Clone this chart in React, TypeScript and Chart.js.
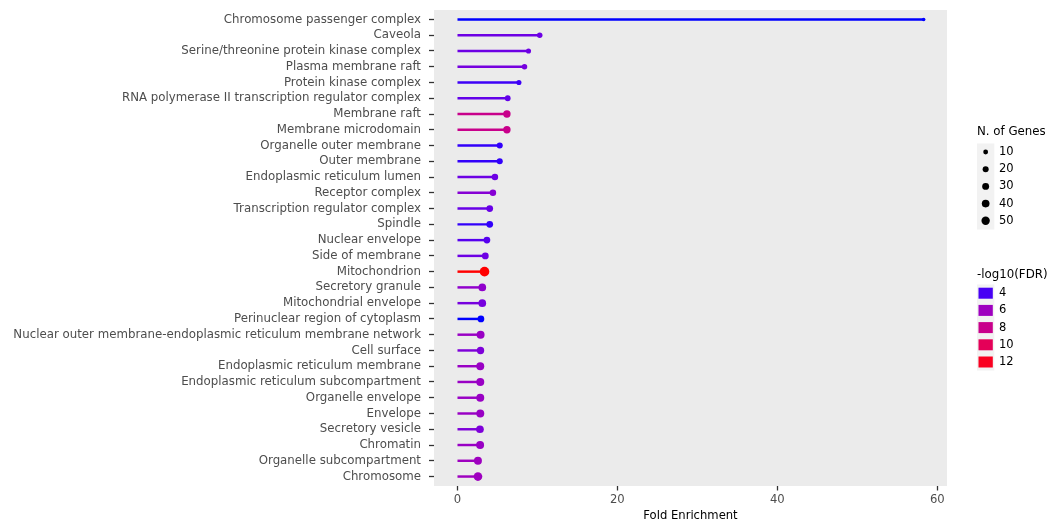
import { useEffect, useRef } from 'react';
import Chart from 'chart.js/auto';

// GO cellular component terms, top to bottom
const terms = [
  'Chromosome passenger complex',
  'Caveola',
  'Serine/threonine protein kinase complex',
  'Plasma membrane raft',
  'Protein kinase complex',
  'RNA polymerase II transcription regulator complex',
  'Membrane raft',
  'Membrane microdomain',
  'Organelle outer membrane',
  'Outer membrane',
  'Endoplasmic reticulum lumen',
  'Receptor complex',
  'Transcription regulator complex',
  'Spindle',
  'Nuclear envelope',
  'Side of membrane',
  'Mitochondrion',
  'Secretory granule',
  'Mitochondrial envelope',
  'Perinuclear region of cytoplasm',
  'Nuclear outer membrane-endoplasmic reticulum membrane network',
  'Cell surface',
  'Endoplasmic reticulum membrane',
  'Endoplasmic reticulum subcompartment',
  'Organelle envelope',
  'Envelope',
  'Secretory vesicle',
  'Chromatin',
  'Organelle subcompartment',
  'Chromosome',
];

const foldEnrichment = [
  58.3, 10.3, 8.9, 8.4, 7.7, 6.3, 6.2, 6.2, 5.3, 5.3,
  4.7, 4.45, 4.05, 4.05, 3.7, 3.5, 3.4, 3.12, 3.12, 2.95,
  2.91, 2.9, 2.87, 2.87, 2.87, 2.87, 2.83, 2.85, 2.58, 2.58,
];

const geneCounts = [
  3, 15, 12, 15, 12, 18, 36, 36, 21, 21,
  25, 25, 28, 28, 28, 28, 72, 40, 40, 28,
  44, 36, 44, 44, 44, 44, 40, 44, 44, 55,
];

const log10FDR = [
  3.6, 4.6, 4.6, 4.8, 3.9, 4.4, 8.0, 8.0, 3.8, 3.8,
  4.6, 5.2, 4.5, 3.8, 4.2, 4.6, 12.6, 5.5, 4.8, 3.6,
  5.8, 5.0, 5.8, 5.8, 5.8, 5.8, 5.0, 5.8, 6.0, 6.0,
];

const foldTicks = [0, 20, 40, 60];
const geneBreaks = [10, 20, 30, 40, 50];
const fdrBreaks = [4, 6, 8, 10, 12];

const FONT = '"DejaVu Sans", sans-serif';

// ---- colour gradient (blue -> red, interpolated in CIE Lab) ----
type Lab = [number, number, number];
function toLinear(c: number) {
  c /= 255;
  return c <= 0.04045 ? c / 12.92 : Math.pow((c + 0.055) / 1.055, 2.4);
}
function fromLinear(c: number) {
  const v = c <= 0.0031308 ? 12.92 * c : 1.055 * Math.pow(c, 1 / 2.4) - 0.055;
  return Math.max(0, Math.min(255, Math.round(v * 255)));
}
const WX = 0.95047, WY = 1.0, WZ = 1.08883;
function rgbToLab(r: number, g: number, b: number): Lab {
  const R = toLinear(r), G = toLinear(g), B = toLinear(b);
  const X = (R * 0.4124564 + G * 0.3575761 + B * 0.1804375) / WX;
  const Y = (R * 0.2126729 + G * 0.7151522 + B * 0.072175) / WY;
  const Z = (R * 0.0193339 + G * 0.119192 + B * 0.9503041) / WZ;
  const f = (t: number) => (t > 216 / 24389 ? Math.cbrt(t) : (24389 / 27 * t + 16) / 116);
  const fx = f(X), fy = f(Y), fz = f(Z);
  return [116 * fy - 16, 500 * (fx - fy), 200 * (fy - fz)];
}
function labToRgb([L, a, b]: Lab): string {
  const fy = (L + 16) / 116;
  const fx = fy + a / 500;
  const fz = fy - b / 200;
  const inv = (t: number) => (t * t * t > 216 / 24389 ? t * t * t : (116 * t - 16) / (24389 / 27));
  const X = inv(fx) * WX, Y = inv(fy) * WY, Z = inv(fz) * WZ;
  const R = X * 3.2404542 - Y * 1.5371385 - Z * 0.4985314;
  const G = -X * 0.969266 + Y * 1.8760108 + Z * 0.041556;
  const B = X * 0.0556434 - Y * 0.2040259 + Z * 1.0572252;
  return `rgb(${fromLinear(R)},${fromLinear(G)},${fromLinear(B)})`;
}
const LOW = rgbToLab(0, 0, 255);
const HIGH = rgbToLab(255, 0, 0);
const fdrMin = Math.min(...log10FDR);
const fdrMax = Math.max(...log10FDR);
function fdrColor(v: number) {
  const t = Math.max(0, Math.min(1, (v - fdrMin) / (fdrMax - fdrMin)));
  return labToRgb([
    LOW[0] + (HIGH[0] - LOW[0]) * t,
    LOW[1] + (HIGH[1] - LOW[1]) * t,
    LOW[2] + (HIGH[2] - LOW[2]) * t,
  ]);
}

// point radius grows with the square root of the gene count
function geneRadius(n: number) {
  return (2.0 + 0.9 * Math.sqrt(n)) / 2;
}

const maxFE = Math.max(...foldEnrichment);
const xPad = maxFE * 0.05;

const panelPlugin = {
  id: 'panelBackground',
  beforeDraw(chart: any) {
    const { ctx, chartArea } = chart;
    ctx.save();
    ctx.fillStyle = '#EBEBEB';
    ctx.fillRect(chartArea.left, chartArea.top, chartArea.right - chartArea.left, chartArea.bottom - chartArea.top);
    ctx.restore();
  },
};

const legendPlugin = {
  id: 'sideLegends',
  afterDraw(chart: any) {
    const { ctx } = chart;
    ctx.save();
    ctx.textBaseline = 'middle';
    ctx.textAlign = 'left';
    const keyX = 977;
    const keyW = 17.3;
    const step = 17.2;
    const titleFont = `11.8px ${FONT}`;
    const labelFont = `11.5px ${FONT}`;

    // size legend
    ctx.font = titleFont;
    ctx.fillStyle = '#000';
    ctx.fillText('N. of Genes', keyX, 132);
    ctx.fillStyle = '#F2F2F2';
    ctx.fillRect(keyX, 143.5, keyW, step * geneBreaks.length);
    ctx.font = labelFont;
    geneBreaks.forEach((n, i) => {
      const cy = 152 + i * step;
      ctx.fillStyle = '#000';
      ctx.beginPath();
      ctx.arc(keyX + keyW / 2, cy, geneRadius(n), 0, Math.PI * 2);
      ctx.fill();
      ctx.fillText(String(n), 999, cy);
    });

    // colour legend
    ctx.font = titleFont;
    ctx.fillStyle = '#000';
    ctx.fillText('-log10(FDR)', keyX, 275);
    ctx.fillStyle = '#F2F2F2';
    ctx.fillRect(keyX, 284.5, keyW, step * fdrBreaks.length);
    ctx.font = labelFont;
    fdrBreaks.forEach((v, i) => {
      const cy = 293.2 + i * step;
      ctx.fillStyle = fdrColor(v);
      ctx.fillRect(keyX + 1.5, cy - 5.5, 14.3, 11);
      ctx.fillStyle = '#000';
      ctx.fillText(String(v), 999, cy);
    });
    ctx.restore();
  },
};

export default function App() {
  const canvasRef = useRef<HTMLCanvasElement | null>(null);

  useEffect(() => {
    if (!canvasRef.current) return;
    const colors = log10FDR.map(fdrColor);
    const chart = new Chart(canvasRef.current, {
      type: 'scatter',
      data: {
        datasets: [
          {
            type: 'scatter',
            data: foldEnrichment.map((fe, i) => ({ x: fe, y: i })),
            pointRadius: geneCounts.map(geneRadius),
            pointHoverRadius: geneCounts.map(geneRadius),
            pointBackgroundColor: colors,
            pointBorderWidth: 0,
            showLine: false,
          } as any,
          {
            type: 'bar',
            indexAxis: 'y',
            data: foldEnrichment.map((fe, i) => ({ x: fe, y: i })),
            backgroundColor: colors,
            borderWidth: 0,
            barThickness: 1.8,
          } as any,
        ],
      },
      options: {
        responsive: false,
        maintainAspectRatio: false,
        animation: false,
        events: [],
        layout: { padding: { top: 10, right: 101, left: 0, bottom: 0 } },
        plugins: {
          legend: { display: false },
          tooltip: { enabled: false },
        },
        scales: {
          x: {
            type: 'linear',
            min: -xPad,
            max: maxFE + xPad,
            offset: false,
            afterBuildTicks: (scale: any) => {
              scale.ticks = foldTicks.map((v) => ({ value: v }));
            },
            afterFit: (scale: any) => {
              scale.height = 37;
              scale.paddingLeft = 0;
              scale.paddingRight = 0;
            },
            grid: {
              display: true,
              offset: false,
              drawOnChartArea: false,
              drawTicks: true,
              tickLength: 4.5,
              tickColor: '#333333',
              tickWidth: 1.3,
            },
            border: { display: false },
            ticks: {
              color: '#4D4D4D',
              font: { family: FONT, size: 11.6 },
              padding: 3,
              maxRotation: 0,
              autoSkip: false,
            },
            title: {
              display: true,
              text: 'Fold Enrichment',
              color: '#000000',
              font: { family: FONT, size: 11.6 },
              padding: { top: 0, bottom: 0 },
            },
          },
          y: {
            type: 'linear',
            reverse: true,
            offset: false,
            min: -0.6,
            max: terms.length - 1 + 0.6,
            afterBuildTicks: (scale: any) => {
              scale.ticks = terms.map((_, i) => ({ value: i }));
            },
            afterFit: (scale: any) => {
              scale.width = 434;
              scale.paddingTop = 0;
              scale.paddingBottom = 0;
            },
            grid: {
              display: true,
              offset: false,
              drawOnChartArea: false,
              drawTicks: true,
              tickLength: 5,
              tickColor: '#333333',
              tickWidth: 1.3,
            },
            border: { display: false },
            ticks: {
              color: '#4D4D4D',
              font: { family: FONT, size: 11.8 },
              padding: 8,
              autoSkip: false,
              callback: (v: any) => terms[v as number] ?? '',
            },
          },
        },
      },
      plugins: [panelPlugin, legendPlugin],
    } as any);
    return () => chart.destroy();
  }, []);

  return (
    <div style={{ position: 'absolute', left: 0, top: 0, width: 1048, height: 523, background: '#fff' }}>
      <canvas ref={canvasRef} width={1048} height={523} style={{ display: 'block', width: 1048, height: 523 }} />
    </div>
  );
}
